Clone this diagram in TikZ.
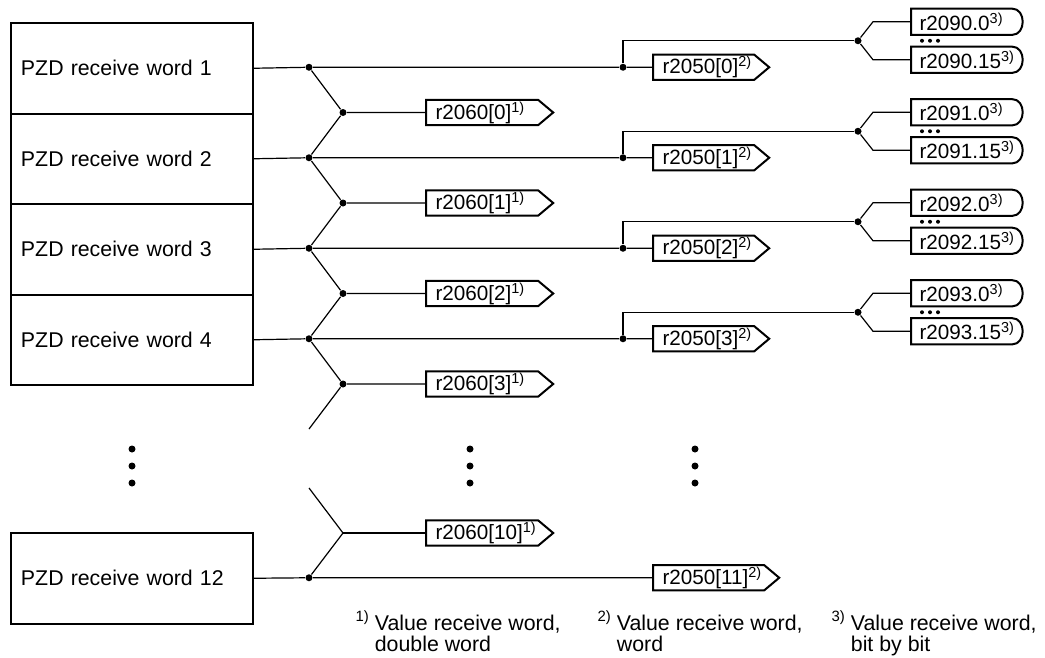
\documentclass[tikz,border=0pt]{standalone}
\usepackage{fontspec}
\setmainfont{Liberation Sans}
\usetikzlibrary{calc}

\begin{document}
\begin{tikzpicture}[x=0.75pt, y=-0.75pt, line width=0.9pt]
    % Styles for the receive words and their outputs
    \tikzset{
        pzd/.style={draw, line width=1.5pt, anchor=north west, minimum width=181.5pt, minimum height=67.875pt, text width=166.5pt, inner xsep=7.5pt, align=left, font=\fontsize{16}{19}\selectfont},
        junc/.style={circle, fill=black, inner sep=0pt, minimum size=5.25pt},
        sig/.style={anchor=west, text width=#1, inner xsep=6.75pt, inner ysep=0pt, minimum height=18pt, align=left, font=\fontsize{15.5}{18}\selectfont},
        bitout/.style={anchor=west, text width=63pt, inner xsep=6pt, inner ysep=0pt, minimum height=18.75pt, align=left, font=\fontsize{15.5}{18}\selectfont},
        outline/.style={line width=1.5pt},
        note/.style={anchor=base west, inner sep=0pt, font=\fontsize{16}{15}\selectfont}
    }
    \useasboundingbox (0,0) rectangle (1045,657);

    % Receive words 1..4 with word, double word and bit outputs
    \foreach \i in {1,...,4} {
        \pgfmathsetmacro\y{67.25+90.5*(\i-1)}
        \pgfmathtruncatemacro\k{\i-1}
        \node[pzd] (w\i) at (10,\y-45.25) {PZD receive word \i};
        \node[junc] (j\i) at (309,\y) {};
        \node[junc] (jr\i) at (623,\y) {};
        \node[sig=61.5pt] (r2050-\k) at (653,\y) {r2050[\k]\textsuperscript{2)}};
        \node[junc] (u\i) at (858,\y-26.5) {};
        \coordinate (ca\i) at (873,\y-45.5);
        \coordinate (cb\i) at (873,\y-7.5);
        \node[bitout] (bit\k a) at (911,\y-45.5) {r209\k.0\textsuperscript{3)}};
        \node[bitout] (bit\k b) at (911,\y-7.5) {r209\k.15\textsuperscript{3)}};
        \node[junc] (d\k) at (343,\y+45.25) {};
        \node[sig=69.75pt] (r2060-\k) at (426,\y+45.25) {r2060[\k]\textsuperscript{1)}};

        \draw (w\i.east) -- (j\i) -- (jr\i) -- (r2050-\k);
        \draw (jr\i) |- (u\i);
        \draw (u\i) -- (ca\i) -- (bit\k a.west);
        \draw (u\i) -- (cb\i) -- (bit\k b.west);
        \draw (j\i) -- (d\k) -- (r2060-\k);
        \fill (922,\y-26.5) circle (2) (930,\y-26.5) circle (2) (938,\y-26.5) circle (2);
    }
    \foreach \a/\b in {0/2,1/3,2/4} {
        \draw (d\a) -- (j\b);
    }
    \coordinate (e3) at (309,429);
    \draw (d3) -- (e3);

    % Receive word 12
    \node[pzd] (w12) at (10,532) {PZD receive word 12};
    \node[junc] (j12) at (309,577.75) {};
    \coordinate (e10) at (309,488);
    \coordinate (d10) at (343,533);
    \node[sig=69.75pt] (r2060-10) at (426,533) {r2060[10]\textsuperscript{1)}};
    \node[sig=69pt] (r2050-11) at (653,577.75) {r2050[11]\textsuperscript{2)}};
    \draw (w12.east) -- (j12) -- (r2050-11);
    \draw (e10) -- (d10) -- (j12);
    \draw (d10) -- (r2060-10);

    % Outlines of the output symbols
    \foreach \n in {r2060-0,r2060-1,r2060-2,r2060-3,r2060-10,r2050-0,r2050-1,r2050-2,r2050-3,r2050-11} {
        \draw[outline] (\n.north west) -- (\n.north east) -- ([xshift=11.25pt]\n.east) -- (\n.south east) -- (\n.south west) -- cycle;
    }
    \foreach \n in {0,...,3} {
        \foreach \s in {a,b} {
            \draw[outline] (bit\n\s.north west) -- (bit\n\s.north east) .. controls +(10.5pt,0) and +(10.5pt,0) .. (bit\n\s.south east) -- (bit\n\s.south west) -- cycle;
        }
    }

    % Continuation dots
    \foreach \x in {132,470,695} {
        \foreach \yy in {449,466,483} {
            \fill (\x,\yy) circle (3.5);
        }
    }

    % Footnotes
    \node[note] (n1) at (355,630) {\begin{tabular}[t]{@{}l@{\hspace{4pt}}l@{}}\textsuperscript{1)} & Value receive word,\\ & double word\end{tabular}};
    \node[note] (n2) at (597,630) {\begin{tabular}[t]{@{}l@{\hspace{4pt}}l@{}}\textsuperscript{2)} & Value receive word,\\ & word\end{tabular}};
    \node[note] (n3) at (831,630) {\begin{tabular}[t]{@{}l@{\hspace{4pt}}l@{}}\textsuperscript{3)} & Value receive word,\\ & bit by bit\end{tabular}};
\end{tikzpicture}
\end{document}
